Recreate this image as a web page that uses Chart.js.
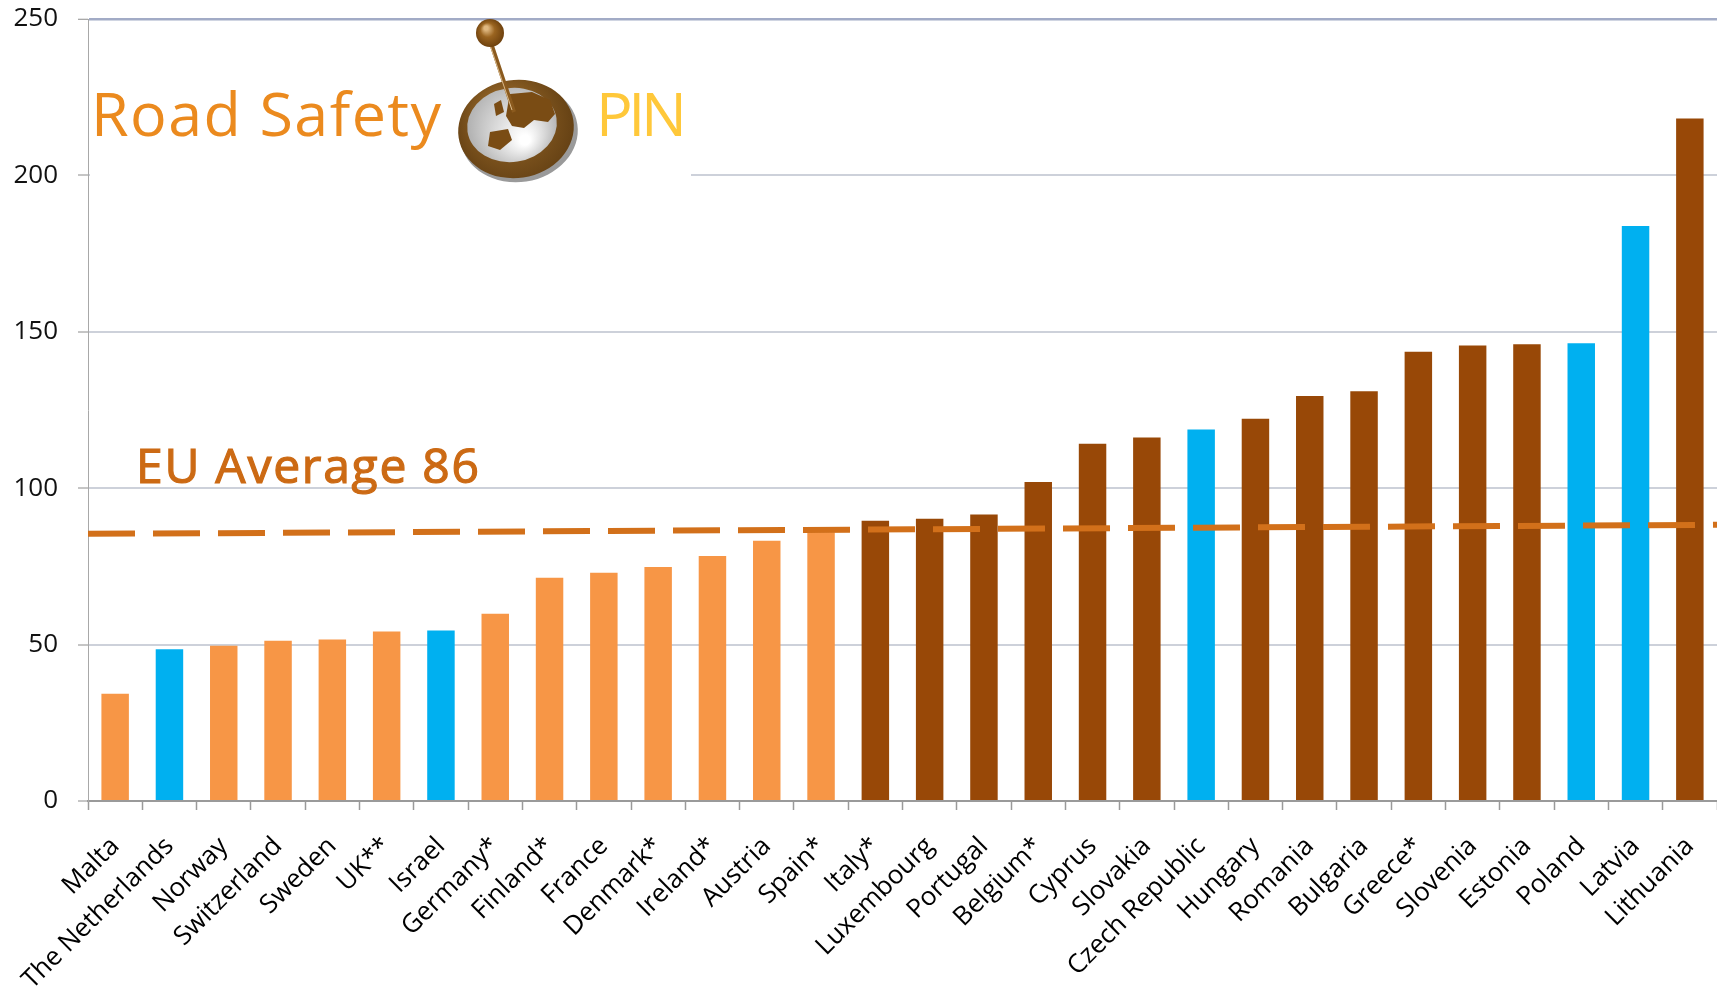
<!DOCTYPE html>
<html>
<head>
<meta charset="utf-8">
<script src="https://cdn.jsdelivr.net/npm/chart.js@4.4.0/dist/chart.umd.min.js"></script>
<style>
  html, body { margin: 0; padding: 0; background: #ffffff; }
  #wrap { width: 1717px; height: 989px; position: relative; }
</style>
</head>
<body>
<div id="wrap"><canvas id="c"></canvas></div>
<script>
// ---- data ----
const countries = ['Malta','The Netherlands','Norway','Switzerland','Sweden','UK**','Israel','Germany*','Finland*','France','Denmark*','Ireland*','Austria','Spain*','Italy*','Luxembourg','Portugal','Belgium*','Cyprus','Slovakia','Czech Republic','Hungary','Romania','Bulgaria','Greece*','Slovenia','Estonia','Poland','Latvia','Lithuania'];
const values = [34.3,48.5,49.6,51.2,51.6,54.2,54.5,59.9,71.4,73.0,74.8,78.3,83.2,85.9,89.6,90.2,91.6,102.0,114.2,116.2,118.8,122.2,129.5,131.0,143.6,145.6,146.0,146.3,183.8,218.2];
const groups = ['below','other','below','below','below','below','other','below','below','below','below','below','below','below','above','above','above','above','above','above','other','above','above','above','above','above','above','other','other','above'];
const avgLineStart = 85.4;   // EU average dashed line value at left edge
const avgLineEnd = 88.3;     // and at right edge
const avgLabel = 'EU Average 86';
const yTicks = [0, 50, 100, 150, 200, 250];

const groupColors = { below: '#F79646', other: '#00B0F0', above: '#984807' };

const FONT = '"Open Sans", "DejaVu Sans", sans-serif';

function fitText(ctx, text, x, y, width, stroke) {
  ctx.letterSpacing = '0px';
  const w = ctx.measureText(text).width;
  const sp = (width - w) / (text.length - 1);
  ctx.letterSpacing = sp.toFixed(2) + 'px';
  ctx.fillText(text, x, y);
  if (stroke) {
    ctx.strokeStyle = ctx.fillStyle;
    ctx.lineWidth = stroke;
    ctx.strokeText(text, x, y);
  }
  ctx.letterSpacing = '0px';
}

const overlayPlugin = {
  id: 'overlay',
  afterDraw(chart) {
    const ctx = chart.ctx;
    const ca = chart.chartArea;
    const y = chart.scales.y;
    ctx.save();
    ctx.textBaseline = 'alphabetic';
    ctx.textAlign = 'left';
    // EU average label
    ctx.font = '48px ' + FONT;
    ctx.fillStyle = '#CC6A14';
    fitText(ctx, avgLabel, ca.left + 48, y.getPixelForValue(101.8), 343, 1.2);

    // Logo area (white background over the 200 gridline)
    ctx.fillStyle = '#ffffff';
    ctx.fillRect(ca.left + 2, 24, 691 - ca.left - 2, 162);

    ctx.font = '61px ' + FONT;
    ctx.fillStyle = '#EB8A1E';
    fitText(ctx, 'Road Safety', 91, 136, 350);
    ctx.fillStyle = '#FFC83A';
    fitText(ctx, 'PIN', 596, 136, 91);

    // globe shadow
    ctx.beginPath();
    ctx.ellipse(519, 133, 59, 49, -0.15, 0, Math.PI * 2);
    ctx.fillStyle = '#9a9a9a';
    ctx.fill();
    // rim
    let g = ctx.createRadialGradient(500, 110, 10, 516, 128, 70);
    g.addColorStop(0, '#9a6a2a');
    g.addColorStop(1, '#5c3a10');
    ctx.beginPath();
    ctx.ellipse(516, 129, 58, 49, -0.15, 0, Math.PI * 2);
    ctx.fillStyle = g;
    ctx.fill();
    // inner globe
    g = ctx.createRadialGradient(525, 140, 5, 512, 124, 50);
    g.addColorStop(0, '#ffffff');
    g.addColorStop(1, '#a9a9a9');
    ctx.beginPath();
    ctx.ellipse(512, 125, 45, 37, -0.15, 0, Math.PI * 2);
    ctx.fillStyle = g;
    ctx.fill();
    // continents (stylised)
    ctx.fillStyle = '#7a4c14';
    ctx.beginPath();
    ctx.moveTo(510, 94); ctx.lineTo(532, 92); ctx.lineTo(550, 100); ctx.lineTo(555, 114);
    ctx.lineTo(548, 122); ctx.lineTo(534, 120); ctx.lineTo(524, 128); ctx.lineTo(512, 126);
    ctx.lineTo(506, 116); ctx.lineTo(508, 104); ctx.closePath(); ctx.fill();
    ctx.beginPath();
    ctx.moveTo(494, 104); ctx.lineTo(501, 100); ctx.lineTo(504, 112); ctx.lineTo(496, 116); ctx.closePath(); ctx.fill();
    ctx.beginPath();
    ctx.moveTo(490, 132); ctx.lineTo(508, 129); ctx.lineTo(512, 140); ctx.lineTo(500, 150); ctx.lineTo(488, 146); ctx.closePath(); ctx.fill();
    // pin needle
    ctx.strokeStyle = '#8B5A1E';
    ctx.lineWidth = 4;
    ctx.beginPath(); ctx.moveTo(490, 40); ctx.lineTo(514, 112); ctx.stroke();
    ctx.strokeStyle = '#d9b98a';
    ctx.lineWidth = 1;
    ctx.beginPath(); ctx.moveTo(489, 42); ctx.lineTo(512, 110); ctx.stroke();
    // pin head
    g = ctx.createRadialGradient(486, 28, 2, 490, 33, 15);
    g.addColorStop(0, '#e0b880');
    g.addColorStop(0.4, '#9a6420');
    g.addColorStop(1, '#6a3e0c');
    ctx.beginPath();
    ctx.arc(490, 33, 14, 0, Math.PI * 2);
    ctx.fillStyle = g;
    ctx.fill();
    ctx.restore();
  }
};

new Chart(document.getElementById('c'), {
  data: {
    labels: countries,
    datasets: [
      {
        type: 'line',
        data: [{ x: 0, y: avgLineStart }, { x: 1, y: avgLineEnd }],
        xAxisID: 'xAvg',
        yAxisID: 'y',
        borderColor: '#D2701A',
        borderWidth: 6,
        borderDash: [47, 18],
        borderCapStyle: 'butt',
        pointRadius: 0,
        fill: false,
        order: 0
      },
      {
        type: 'bar',
        data: values,
        xAxisID: 'x',
        yAxisID: 'y',
        backgroundColor: groups.map(g => groupColors[g]),
        borderWidth: 0,
        grouped: false,
        barPercentage: 0.506,
        categoryPercentage: 1.0,
        order: 1
      }
    ]
  },
  options: {
    responsive: true,
    maintainAspectRatio: false,
    animation: false,
    devicePixelRatio: 1,
    layout: { padding: { top: 19, right: 0, left: 0, bottom: 0 } },
    plugins: { legend: { display: false }, tooltip: { enabled: false } },
    scales: {
      x: {
        type: 'category',
        offset: true,
        grid: {
          offset: true,
          drawOnChartArea: false,
          drawTicks: true,
          tickLength: 9,
          tickColor: '#9a9a9a',
          tickWidth: 1.5
        },
        border: { display: true, color: '#9a9a9a', width: 2 },
        ticks: {
          autoSkip: false,
          maxRotation: 45,
          minRotation: 45,
          padding: 21,
          color: '#000000',
          font: { family: FONT, size: 26 }
        },
        afterFit(scale) {
          scale.height = 188;
          scale.paddingLeft = 0;
          scale.paddingRight = 0;
        }
      },
      xAvg: {
        type: 'linear',
        display: false,
        min: 0,
        max: 1,
        offset: false
      },
      y: {
        type: 'linear',
        min: 0,
        max: 250,
        afterBuildTicks(scale) { scale.ticks = yTicks.map(v => ({ value: v })); },
        grid: {
          color: ctx => (ctx.tick && ctx.tick.value === 250) ? '#A2ABC6' : '#CDD1DA',
          lineWidth: ctx => (ctx.tick && ctx.tick.value === 250) ? 2.5 : 2,
          drawTicks: true,
          tickLength: 10,
          tickColor: '#8c8c8c',
          tickWidth: 1
        },
        border: { display: true, color: '#a8a8a8', width: 1 },
        ticks: {
          padding: 20,
          color: '#111111',
          font: { family: FONT, size: 26 }
        },
        afterFit(scale) {
          scale.width = 88;
          scale.paddingTop = 0;
          scale.paddingBottom = 0;
        }
      }
    }
  },
  plugins: [overlayPlugin]
});
</script>
</body>
</html>
